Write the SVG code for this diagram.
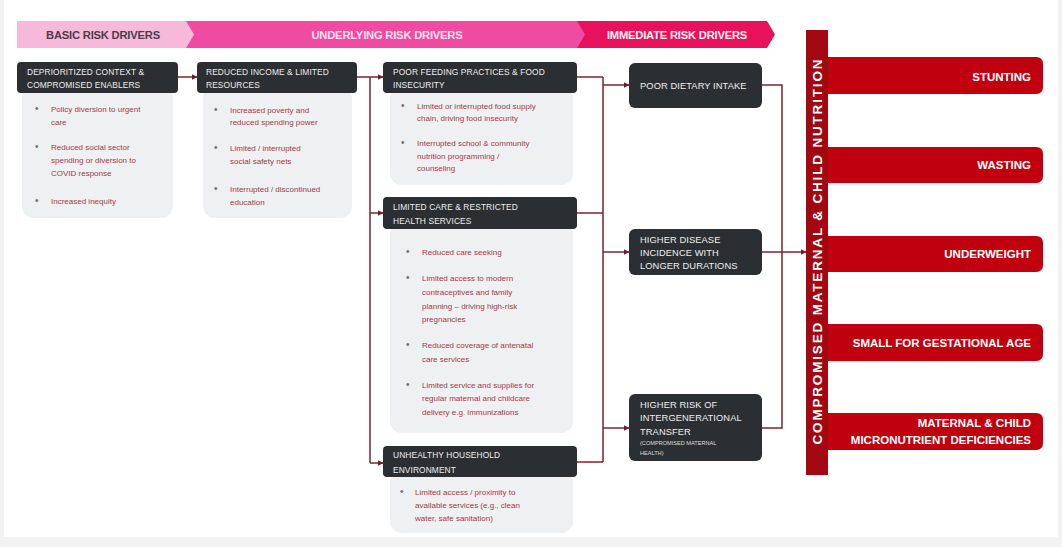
<svg xmlns="http://www.w3.org/2000/svg" width="1062" height="547" viewBox="0 0 1062 547">
<defs>
<marker id="arr" viewBox="0 0 10 10" refX="9" refY="5" markerWidth="6" markerHeight="6" orient="auto" markerUnits="userSpaceOnUse">
<path d="M0,0 L10,5 L0,10 z" fill="#6e1f2c"/>
</marker>
<style>
text{font-family:"Liberation Sans",Arial,sans-serif}
.ban{font-size:11.2px;font-weight:bold;text-anchor:middle;letter-spacing:-0.2px}
.hdr{fill:#2b2f31}
.body{fill:#eef0f2}
.ht{font-size:8.4px;fill:#eeeeee;letter-spacing:0.1px}
.bt{font-size:8px;fill:#a3384a}
.bul{font-size:10px;fill:#6f6f6f}
.nt{font-size:9.3px;fill:#f0f0f0;letter-spacing:0.1px}
.st{font-size:5.6px;fill:#dddddd}
.out{fill:#c0000f}
.ot{font-size:11.5px;font-weight:bold;fill:#ffffff;text-anchor:end}
.ln{fill:none;stroke:#7a2433;stroke-width:1.5}
.la{fill:none;stroke:#7a2433;stroke-width:1.5;marker-end:url(#arr)}
</style>
</defs>
<rect x="0" y="0" width="1062" height="547" fill="#f3f3f3"/>
<rect x="4" y="0" width="1054" height="537" fill="#ffffff"/>

<g id="banners">
<polygon points="17,21 187,21 195,34.5 187,48 17,48" fill="#f7b9d9"/>
<text class="ban" x="103" y="38.5" fill="#4d3a4c">BASIC RISK DRIVERS</text>
<polygon points="186,21 583,21 591,34.5 583,48 186,48 194,34.5" fill="#f04ba2"/>
<text class="ban" x="387" y="38.5" fill="#fde3f0">UNDERLYING RISK DRIVERS</text>
<polygon points="577,21 767,21 775,34.5 767,48 577,48 585,34.5" fill="#e8125c"/>
<text class="ban" x="677" y="38.5" fill="#fff4f8">IMMEDIATE RISK DRIVERS</text>
</g>

<g id="basic">
<rect class="body" x="22" y="86" width="151" height="132" rx="12"/>
<rect class="hdr" x="17" y="62" width="161" height="31" rx="4"/>
<text class="ht" x="27" y="75">DEPRIORITIZED CONTEXT &amp;</text>
<text class="ht" x="27" y="88">COMPROMISED ENABLERS</text>
<text class="bul" x="35" y="112">•</text>
<text class="bt" x="51" y="112">Policy diversion to urgent</text>
<text class="bt" x="51" y="125">care</text>
<text class="bul" x="35" y="150">•</text>
<text class="bt" x="51" y="150">Reduced social sector</text>
<text class="bt" x="51" y="163">spending or diversion to</text>
<text class="bt" x="51" y="176">COVID response</text>
<text class="bul" x="35" y="204">•</text>
<text class="bt" x="51" y="204">Increased inequity</text>
</g>

<g id="income">
<rect class="body" x="203" y="86" width="149" height="132" rx="12"/>
<rect class="hdr" x="197" y="62" width="160" height="31" rx="4"/>
<text class="ht" x="206" y="75">REDUCED INCOME &amp; LIMITED</text>
<text class="ht" x="206" y="88">RESOURCES</text>
<text class="bul" x="214" y="113">•</text>
<text class="bt" x="230" y="113">Increased poverty and</text>
<text class="bt" x="230" y="125">reduced spending power</text>
<text class="bul" x="214" y="151">•</text>
<text class="bt" x="230" y="151">Limited / interrupted</text>
<text class="bt" x="230" y="164">social safety nets</text>
<text class="bul" x="214" y="192">•</text>
<text class="bt" x="230" y="192">Interrupted / discontinued</text>
<text class="bt" x="230" y="205">education</text>
</g>

<g id="feeding">
<rect class="body" x="390" y="86" width="183" height="99" rx="12"/>
<rect class="hdr" x="383" y="62" width="194" height="31" rx="4"/>
<text class="ht" x="393" y="75">POOR FEEDING PRACTICES &amp; FOOD</text>
<text class="ht" x="393" y="88">INSECURITY</text>
<text class="bul" x="401" y="109">•</text>
<text class="bt" x="417" y="109">Limited or interrupted food supply</text>
<text class="bt" x="417" y="121">chain, driving food insecurity</text>
<text class="bul" x="401" y="146">•</text>
<text class="bt" x="417" y="146">Interrupted school &amp; community</text>
<text class="bt" x="417" y="159">nutrition programming /</text>
<text class="bt" x="417" y="171">counseling</text>
</g>

<g id="care">
<rect class="body" x="390" y="222" width="183" height="211" rx="12"/>
<rect class="hdr" x="383" y="197" width="194" height="32" rx="4"/>
<text class="ht" x="393" y="210">LIMITED CARE &amp; RESTRICTED</text>
<text class="ht" x="393" y="224">HEALTH SERVICES</text>
<text class="bul" x="406" y="255">•</text>
<text class="bt" x="422" y="255">Reduced care seeking</text>
<text class="bul" x="406" y="281">•</text>
<text class="bt" x="422" y="281">Limited access to modern</text>
<text class="bt" x="422" y="295">contraceptives and family</text>
<text class="bt" x="422" y="309">planning – driving high-risk</text>
<text class="bt" x="422" y="322">pregnancies</text>
<text class="bul" x="406" y="348">•</text>
<text class="bt" x="422" y="348">Reduced coverage of antenatal</text>
<text class="bt" x="422" y="362">care services</text>
<text class="bul" x="406" y="388">•</text>
<text class="bt" x="422" y="388">Limited service and supplies for</text>
<text class="bt" x="422" y="401">regular maternal and childcare</text>
<text class="bt" x="422" y="415">delivery e.g. immunizations</text>
</g>

<g id="household">
<rect class="body" x="390" y="470" width="183" height="63" rx="12"/>
<rect class="hdr" x="383" y="446" width="194" height="31" rx="4"/>
<text class="ht" x="393" y="458">UNHEALTHY HOUSEHOLD</text>
<text class="ht" x="393" y="473">ENVIRONMENT</text>
<text class="bul" x="400" y="495">•</text>
<text class="bt" x="415" y="495">Limited access / proximity to</text>
<text class="bt" x="415" y="508">available services (e.g., clean</text>
<text class="bt" x="415" y="521">water, safe sanitation)</text>
</g>

<g id="dietary">
<rect class="hdr" x="629" y="63" width="133" height="45" rx="6"/>
<text class="nt" x="640" y="89">POOR DIETARY INTAKE</text>
</g>

<g id="disease">
<rect class="hdr" x="629" y="229" width="133" height="46" rx="6"/>
<text class="nt" x="640" y="243">HIGHER DISEASE</text>
<text class="nt" x="640" y="256">INCIDENCE WITH</text>
<text class="nt" x="640" y="269">LONGER DURATIONS</text>
</g>

<g id="transfer">
<rect class="hdr" x="629" y="394" width="133" height="67" rx="6"/>
<text class="nt" x="640" y="408">HIGHER RISK OF</text>
<text class="nt" x="640" y="421">INTERGENERATIONAL</text>
<text class="nt" x="640" y="435">TRANSFER</text>
<text class="st" x="640" y="445">(COMPROMISED MATERNAL</text>
<text class="st" x="640" y="455">HEALTH)</text>
</g>

<g id="connectors">
<path class="la" d="M178,77 H197"/>
<path class="la" d="M357,77 H383"/>
<path class="ln" d="M370,77 V463"/>
<path class="la" d="M370,213 H383"/>
<path class="la" d="M370,463 H383"/>
<path class="ln" d="M577,77 H603 M577,213 H603 M577,462 H603 M603,77 V462"/>
<path class="la" d="M603,85 H629"/>
<path class="la" d="M603,252 H629"/>
<path class="la" d="M603,428 H629"/>
<path class="ln" d="M762,85 H782 V428 H762"/>
<path class="la" d="M762,252 H806"/>
</g>

<g id="nutrition">
<rect x="806" y="30" width="22" height="445" fill="#a30812"/>
<text x="0" y="0" transform="translate(822,252) rotate(-90)" font-size="13.5" font-weight="bold" fill="#ffffff" text-anchor="middle" textLength="385" lengthAdjust="spacing">COMPROMISED MATERNAL &amp; CHILD NUTRITION</text>
</g>

<g id="stunting">
<path class="out" d="M828,57 H1036 Q1043,57 1043,64 V87 Q1043,94 1036,94 H828 Z"/>
<text class="ot" x="1031" y="81">STUNTING</text>
</g>
<g id="wasting">
<path class="out" d="M828,147 H1036 Q1043,147 1043,154 V176 Q1043,183 1036,183 H828 Z"/>
<text class="ot" x="1031" y="169">WASTING</text>
</g>
<g id="underweight">
<path class="out" d="M828,236 H1036 Q1043,236 1043,243 V265 Q1043,272 1036,272 H828 Z"/>
<text class="ot" x="1031" y="258">UNDERWEIGHT</text>
</g>
<g id="sga">
<path class="out" d="M828,324 H1036 Q1043,324 1043,331 V354 Q1043,361 1036,361 H828 Z"/>
<text class="ot" x="1031" y="347">SMALL FOR GESTATIONAL AGE</text>
</g>
<g id="micronutrient">
<path class="out" d="M828,413 H1036 Q1043,413 1043,420 V443 Q1043,450 1036,450 H828 Z"/>
<text class="ot" x="1031" y="427">MATERNAL &amp; CHILD</text>
<text class="ot" x="1031" y="444">MICRONUTRIENT DEFICIENCIES</text>
</g>
</svg>
